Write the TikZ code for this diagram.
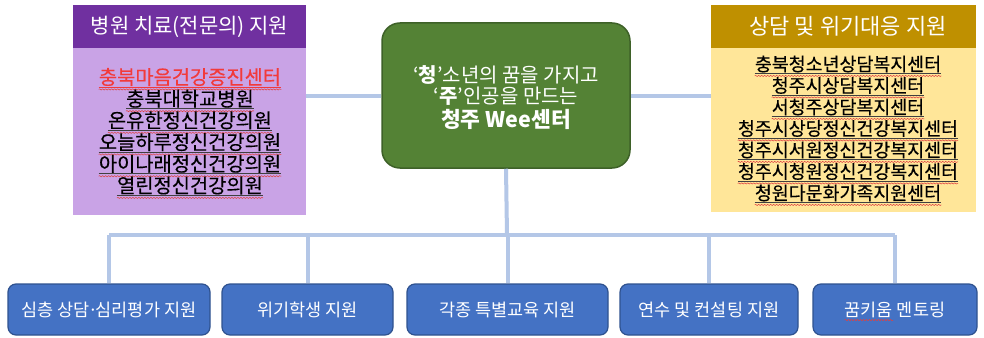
\documentclass[tikz,border=0pt]{standalone}
\usepackage{fontspec}
\setmainfont{Noto Sans CJK KR}
\newfontfamily\krmed{Noto Sans CJK KR}[FakeBold=0.35]
\usetikzlibrary{decorations.pathmorphing,calc}
\definecolor{hdrpurple}{HTML}{7030A0}
\definecolor{bodypurple}{HTML}{C9A3E6}
\definecolor{hdrgold}{HTML}{BF9000}
\definecolor{bodyyellow}{HTML}{FFE699}
\definecolor{centergreen}{HTML}{548235}
\definecolor{greenborder}{HTML}{3E6128}
\definecolor{boxblue}{HTML}{4472C4}
\definecolor{blueborder}{HTML}{2F528F}
\definecolor{linkblue}{HTML}{B4C7E7}
\definecolor{redtext}{HTML}{F23A3A}
\definecolor{squigred}{HTML}{E04040}
\begin{document}
\begin{tikzpicture}[x=1pt,y=-1pt,
  hdr/.style={minimum height=43pt,inner sep=0pt,text=white,font=\fontsize{21}{24}\selectfont},
  sidebody/.style={inner sep=0pt},
  bodytxt/.style={inner sep=0pt,font=\krmed\fontsize{19.8}{22}\selectfont},
  rbodytxt/.style={inner sep=0pt,font=\krmed\fontsize{18.4}{21}\selectfont},
  centerbox/.style={draw=greenborder,line width=1.5pt,fill=centergreen,rounded corners=18pt,minimum width=248pt,minimum height=145pt,inner sep=0pt},
  ctxt/.style={inner sep=0pt,text=white,font=\fontsize{20}{23}\selectfont},
  bluebox/.style={draw=blueborder,line width=1.2pt,fill=boxblue,rounded corners=8pt,minimum height=51pt,inner sep=0pt},
  btxt/.style={inner sep=0pt,text=white,font=\fontsize{17.5}{20}\selectfont},
  link/.style={draw=linkblue,line width=4pt},
  ulblack/.style={draw=black!75,line width=0.6pt},
  squig/.style={draw=squigred,line width=0.5pt,decorate,decoration={snake,amplitude=0.6pt,segment length=3pt}}
]
\useasboundingbox (0,0) rectangle (984,337);
\fill[white] (0,0) rectangle (984,337);

% left box
\node[sidebody,fill=bodypurple,minimum width=233pt,minimum height=167pt] (LB) at (189.5,131.5) {};
\node[hdr,fill=hdrpurple,minimum width=233pt] (LH) at (189.5,26.5) {병원 치료(전문의) 지원};

% right box
\node[sidebody,fill=bodyyellow,minimum width=265pt,minimum height=164pt] (RB) at (843.5,130) {};
\node[hdr,fill=hdrgold,minimum width=265pt,font=\fontsize{22}{24}\selectfont] (RH) at (843.5,26.5) {\hspace*{9pt}상담 및 위기대응 지원};

% left body text
\node[bodytxt,text=redtext] (L1) at (190,77) {충북마음건강증진센터};
\draw[ulblack,draw=redtext] ($(L1.base west)+(0,2.5)$) -- ($(L1.base east)+(0,2.5)$);
\draw[squig] ($(L1.base west)+(0,5)$) -- ($(L1.base east)+(0,5)$);
\foreach \t [count=\i from 2] in {충북대학교병원,온유한정신건강의원,오늘하루정신건강의원,아이나래정신건강의원,열린정신건강의원}{
  \node[bodytxt] (L\i) at (190,{77+21.7*(\i-1)}) {\t};
  \draw[ulblack] ($(L\i.base west)+(0,2.5)$) -- ($(L\i.base east)+(0,2.5)$);
  \draw[squig] ($(L\i.base west)+(0,5)$) -- ($(L\i.base east)+(0,5)$);
}

% right body text
\foreach \t [count=\i] in {충북청소년상담복지센터,청주시상담복지센터,서청주상담복지센터,청주시상당정신건강복지센터,청주시서원정신건강복지센터,청주시청원정신건강복지센터,청원다문화가족지원센터}{
  \node[rbodytxt] (R\i) at (848,{64+21.5*(\i-1)}) {\t};
  \draw[ulblack] ($(R\i.base west)+(0,2.5)$) -- ($(R\i.base east)+(0,2.5)$);
  \draw[squig] ($(R\i.base west)+(0,5)$) -- ($(R\i.base east)+(0,5)$);
}

% center box
\node[centerbox] (C) at (506,95.5) {};
\node[ctxt] (C1) at (506,75) {‘\textbf{청}’소년의 꿈을 가지고};
\node[ctxt] (C2) at (506,96) {‘\textbf{주}’인공을 만드는};
\node[ctxt,font=\fontsize{21.5}{24}\selectfont\bfseries] (C3) at (506,119) {청주 Wee센터};

% bottom boxes
\node[bluebox,minimum width=202pt] (B1) at (109,309.5) {};
\node[bluebox,minimum width=171pt] (B2) at (307.5,309.5) {};
\node[bluebox,minimum width=201pt] (B3) at (507.5,309.5) {};
\node[bluebox,minimum width=178pt] (B4) at (709,309.5) {};
\node[bluebox,minimum width=164pt] (B5) at (895,309.5) {};
\node[btxt] (T1) at (B1) {심층 상담\kern-0.12em·\kern-0.12em심리평가 지원};
\node[btxt] (T2) at (B2) {위기학생 지원};
\node[btxt] (T3) at (B3) {각종 특별교육 지원};
\node[btxt] (T4) at (B4) {연수 및 컨설팅 지원};
\node[btxt] (T5) at (B5) {꿈키움 멘토링};
\node[btxt,anchor=base west] (K1) at (T5.base west) {\phantom{꿈키움}};
\draw[squig] ($(K1.base west)+(0,4)$) -- ($(K1.base east)+(0,4)$);

% connectors
\coordinate (hub) at (507,235);
\draw[link] (C.west) -- (C.west -| LB.east);
\draw[link] (C.east) -- (C.east -| RB.west);
\draw[link] (C.south) -- (hub);
\draw[link] (B1.north |- hub) -- (B5.north |- hub);
\foreach \b in {B1,B2,B3,B4,B5}{
  \draw[link] (\b.north |- hub) -- (\b.north);
}
\end{tikzpicture}
\end{document}
